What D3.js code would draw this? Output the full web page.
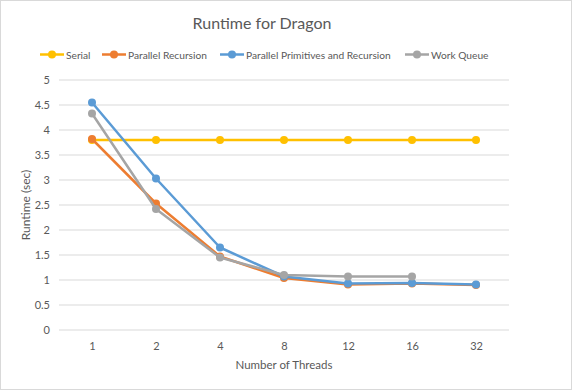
<!DOCTYPE html>
<html><head><meta charset="utf-8">
<script src="https://cdn.jsdelivr.net/npm/d3@7"></script>
<style>body{margin:0;background:#fff}svg{display:block}text{font-family:Lato,"Open Sans",sans-serif}</style>
</head><body>
<svg id="c" width="572" height="390"></svg>
<script>
const categories = ["1","2","4","8","12","16","32"];
const seriesNames = ["Serial","Parallel Recursion","Parallel Primitives and Recursion","Work Queue"];
const serial = [3.8,3.8,3.8,3.8,3.8,3.8,3.8];
const parallelRecursion = [3.82,2.53,1.47,1.04,0.91,0.93,0.9];
const parallelPrimitives = [4.55,3.03,1.65,1.07,0.93,0.94,0.91];
const workQueue = [4.33,2.42,1.45,1.1,1.07,1.07,null];
const yTicks = [0,0.5,1,1.5,2,2.5,3,3.5,4,4.5,5];
const colors = ["#FFC000","#ED7D31","#5B9BD5","#A5A5A5"];

const svg = d3.select("#c");
svg.append("rect").attr("x",0.5).attr("y",0.5).attr("width",571).attr("height",389)
  .attr("fill","#fff").attr("stroke","#d9d9d9");

const x = d3.scalePoint().domain(categories).range([92,476]);
const y = d3.scaleLinear().domain([0,5]).range([330,80]);

svg.append("g").selectAll("line").data(yTicks).join("line")
  .attr("x1",59).attr("x2",509).attr("y1",d=>y(d)).attr("y2",d=>y(d))
  .attr("stroke","#d9d9d9").attr("stroke-width",1);

const yAxis = svg.append("g").attr("transform","translate(59,0)")
  .call(d3.axisLeft(y).tickValues(yTicks).tickSize(0).tickPadding(9).tickFormat(d3.format("")));
yAxis.select(".domain").remove();
yAxis.selectAll("text").attr("fill","#595959").style("font-size","11px");

const xAxis = svg.append("g").attr("transform","translate(0,330)")
  .call(d3.axisBottom(x).tickSize(0).tickPadding(12));
xAxis.select(".domain").remove();
xAxis.selectAll("text").attr("fill","#595959").style("font-size","11px");

svg.append("text").attr("x",262).attr("y",29).attr("text-anchor","middle")
  .attr("fill","#595959").style("font-size","16px").text("Runtime for Dragon");
svg.append("text").attr("x",284).attr("y",369).attr("text-anchor","middle")
  .attr("fill","#595959").style("font-size","11.5px").text("Number of Threads");
svg.append("text").attr("transform","translate(30,205) rotate(-90)").attr("text-anchor","middle")
  .attr("fill","#595959").style("font-size","12px").text("Runtime (sec)");

const allSeries = [serial,parallelRecursion,parallelPrimitives,workQueue];
const line = d3.line().defined(d=>d.v!=null).x(d=>x(d.c)).y(d=>y(d.v));
allSeries.forEach((vals,i)=>{
  const pts = vals.map((v,j)=>({c:categories[j],v}));
  const g = svg.append("g");
  g.append("path").datum(pts).attr("d",line).attr("fill","none")
    .attr("stroke",colors[i]).attr("stroke-width",2.5).attr("stroke-linejoin","round");
  g.selectAll("circle").data(pts.filter(d=>d.v!=null)).join("circle")
    .attr("cx",d=>x(d.c)).attr("cy",d=>y(d.v)).attr("r",4).attr("fill",colors[i]);
});

const legX = [40,102,220,405];
const lg = svg.append("g");
seriesNames.forEach((n,i)=>{
  const g = lg.append("g").attr("transform",`translate(${legX[i]},54.5)`);
  g.append("line").attr("x1",0).attr("x2",24).attr("stroke",colors[i]).attr("stroke-width",2.5);
  g.append("circle").attr("cx",12).attr("r",4).attr("fill",colors[i]);
  g.append("text").attr("x",26).attr("y",4).attr("fill","#595959").style("font-size","10.2px").text(n);
});
</script>
</body></html>
